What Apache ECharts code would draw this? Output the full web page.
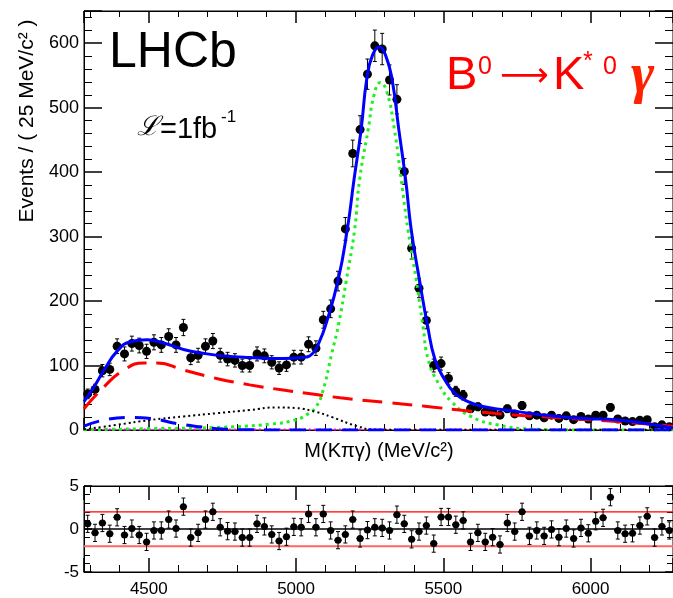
<!DOCTYPE html>
<html><head><meta charset="utf-8">
<script src="https://cdn.jsdelivr.net/npm/echarts@6/dist/echarts.min.js"></script>
<style>html,body{margin:0;padding:0;background:#fff}#c{width:673px;height:598px}</style>
</head><body><div id="c"></div>
<script>
// ---- data ----
const massBins = [4292.5,4317.5,4342.5,4367.5,4392.5,4417.5,4442.5,4467.5,4492.5,4517.5,
4542.5,4567.5,4592.5,4617.5,4642.5,4667.5,4692.5,4717.5,4742.5,4767.5,
4792.5,4817.5,4842.5,4867.5,4892.5,4917.5,4942.5,4967.5,4992.5,5017.5,
5042.5,5067.5,5092.5,5117.5,5142.5,5167.5,5192.5,5217.5,5242.5,5267.5,
5292.5,5317.5,5342.5,5367.5,5392.5,5417.5,5442.5,5467.5,5492.5,5517.5,
5542.5,5567.5,5592.5,5617.5,5642.5,5667.5,5692.5,5717.5,5742.5,5767.5,
5792.5,5817.5,5842.5,5867.5,5892.5,5917.5,5942.5,5967.5,5992.5,6017.5,
6042.5,6067.5,6092.5,6117.5,6142.5,6167.5,6192.5,6217.5,6242.5,6267.5];
const events = [56,63,92,94,130,118,134,131,122,136,
132,145,132,159,112,116,130,138,116,110,
108,100,100,118,115,105,96,101,113,113,
133,127,171,188,231,312,429,466,552,596,
591,543,513,401,282,220,170,100,103,80,
60,54,33,36,28,28,23,33,25,38,
22,23,19,23,18,22,16,21,17,23,
23,35,17,14,13,15,16,5,8,5];
const pulls = [0.6,-0.45,0.7,-0.55,1.36,-0.7,0.05,-0.7,-1.5,-0.17,
-0.17,1.1,0.05,2.6,-1.0,-0.45,1.1,2.0,0.2,-0.25,
-0.3,-1.0,-1.0,0.6,0.3,-0.63,-1.4,-0.9,0.25,0.2,
1.75,0.2,1.75,-0.17,-1.3,-0.63,1.1,-1.1,-0.13,0.2,
0.13,-0.17,1.67,0.6,-1.2,-0.3,0.4,-1.7,1.4,1.4,
0.5,1.0,-1.5,-0.45,-1.5,-0.95,-1.8,0.7,-0.3,2.0,
-0.8,-0.17,-0.8,-0.05,-0.95,0.05,-1.1,0.13,-0.5,0.9,
1.3,3.7,-0.17,-0.55,-0.5,0.4,1.47,-1.0,0.3,-0.17];
const fitTotal = [[4280,44],[4314,67],[4348,93],[4392,122],[4438,137],[4494,140],[4550,135],[4618,125],[4685,119],[4753,115],[4843,112.5],[4956,111],[5023,112.5],[5057,119],[5080,138],[5100,162],[5143,233],[5174,311],[5197,389],[5221,466],[5240,544],[5260,582],[5283,594],[5305,580],[5326,544],[5349,466],[5372,389],[5391,311],[5419,233],[5447,161],[5472,109],[5505,78],[5539,57],[5584,44],[5640,36],[5753,28.5],[5865,22],[5978,18],[6091,15.5],[6181,10.5],[6280,3]];
const fitPartReco = [[4280,33],[4348,67],[4415,93],[4483,104],[4528,104],[4618,93],[4730,80],[4843,70],[4956,62],[5068,55],[5150,50],[5300,43],[5437,37],[5584,29.5],[5753,23],[5922,18],[6091,13],[6280,6]];
const fitOtherBkg = [[4280,6],[4348,15.5],[4438,19.5],[4505,18],[4595,10],[4673,5],[4753,1.5],[4850,0.3],[5000,0],[6280,0]];
const fitCombinatorial = [[4280,1],[4392,8],[4505,15.5],[4618,21],[4730,26],[4843,31],[4933,35],[5000,34],[5068,28],[5122,20],[5207,6],[5270,0.5],[5400,0],[6280,0]];
const fitSignal = [[4280,0.5],[4500,2],[4730,4],[4910,9],[5000,16],[5044,26],[5068,36],[5089,57],[5122,120],[5145,165],[5171,233],[5199,311],[5216,389],[5245,466],[5265,520],[5286,539],[5308,525],[5334,466],[5357,389],[5380,311],[5408,233],[5431,161],[5449,109],[5483,72.6],[5528,44],[5595,20.7],[5686,7.8],[5798,1.5],[5950,0],[6280,0]];
const fitMinor = [[4280,0.8],[6280,0.8]];
const pullBands = [2, -2];

// ---- chart ----
const FONT = "'Liberation Sans', Arial, Helvetica, sans-serif";
const chart = echarts.init(document.getElementById('c'), null, {renderer:'canvas'});
const evData = massBins.map((m,i)=>[m, events[i]]);
const pullData = massBins.map((m,i)=>[m, pulls[i]]);
const halfBin = 12.5;

function errBar(yErrFn, cap, hbar){
  return function(params, api){
    const x = api.value(0), y = api.value(1), e = yErrFn(y);
    const t = api.coord([x, y+e]), b = api.coord([x, y-e]);
    const st = {stroke:'#000', lineWidth:1};
    const ch = [
      {type:'line', shape:{x1:t[0],y1:t[1],x2:b[0],y2:b[1]}, style:st},
      {type:'line', shape:{x1:t[0]-cap,y1:t[1],x2:t[0]+cap,y2:t[1]}, style:st},
      {type:'line', shape:{x1:b[0]-cap,y1:b[1],x2:b[0]+cap,y2:b[1]}, style:st}
    ];
    if (hbar) {
      const l = api.coord([x-halfBin, y]), r = api.coord([x+halfBin, y]);
      ch.push({type:'line', shape:{x1:l[0],y1:l[1],x2:r[0],y2:r[1]}, style:{stroke:'#000', lineWidth:1.5}});
    }
    return {type:'group', children: ch};
  };
}

function xAx(grid, pos, labels){
  return {type:'value', gridIndex:grid, position:pos, min:4280, max:6280, splitNumber:4,
    axisLine:{show:true, onZero:false, lineStyle:{color:'#000', width:1}},
    axisTick:{show:true, inside:true, length: grid===0?12:14, lineStyle:{color:'#000', width:1.5}},
    minorTick:{show:true, splitNumber:5, length: grid===0?6:7, lineStyle:{color:'#000', width:1}},
    axisLabel:{show:labels, showMinLabel:false, showMaxLabel:false, color:'#000', fontSize:17, fontFamily:FONT, margin:9, formatter:(v)=>String(v)},
    splitLine:{show:false}, minorSplitLine:{show:false}};
}
function yAx(grid, pos, labels){
  const main = grid===0;
  return {type:'value', gridIndex:grid, position:pos,
    min: main?0:-5, max: main?650:5, interval: main?100:5,
    axisLine:{show:true, onZero:false, lineStyle:{color:'#000', width:1}},
    axisTick:{show:true, inside:true, length: main?18:8, lineStyle:{color:'#000', width:1.5}},
    minorTick:{show:true, splitNumber:5, length: main?8:6, lineStyle:{color:'#000', width:1}},
    axisLabel:{show:labels, showMaxLabel: main?false:true, color:'#000', fontSize: main?18:17, fontFamily:FONT, margin:5, formatter:(v)=>String(v)},
    splitLine:{show:false}, minorSplitLine:{show:false}};
}
const curve = (data, color, width, type, z) => ({type:'line', xAxisIndex:0, yAxisIndex:0, data, smooth:0.5, showSymbol:false, lineStyle:{color, width, type}, z, silent:true});

const option = {
  animation:false,
  backgroundColor:'#fff',
  grid:[
    {left:84, top:11, width:592, height:419, show:true, borderColor:'#000', borderWidth:1},
    {left:84, top:486, width:592, height:87, show:true, borderColor:'#000', borderWidth:1}
  ],
  xAxis:[xAx(0,'bottom',false), xAx(0,'top',false), xAx(1,'bottom',true), xAx(1,'top',false)],
  yAxis:[yAx(0,'left',true), yAx(0,'right',false), yAx(1,'left',true), yAx(1,'right',false)],
  series:[
    {type:'custom', xAxisIndex:0, yAxisIndex:0, data:evData, renderItem: errBar(v=>Math.sqrt(v), 2, false), z:2, silent:true},
    {type:'scatter', xAxisIndex:0, yAxisIndex:0, data:evData, symbol:'circle', symbolSize:9, itemStyle:{color:'#000', opacity:1}, z:3, silent:true},
    curve(fitMinor, '#ff00ff', 2, [2,3], 4),
    curve(fitSignal, '#22ee22', 3, [3,4], 4),
    curve(fitCombinatorial, '#000', 2, [2,3], 4),
    curve(fitOtherBkg, '#0000ff', 3, [16,10], 4),
    curve(fitPartReco, '#ff0000', 3, [20,10], 4),
    curve(fitTotal, '#0000ff', 3, 'solid', 5),
    // pull plot
    {type:'line', xAxisIndex:2, yAxisIndex:2, data:[[4280,0],[6280,0]], showSymbol:false, lineStyle:{color:'#000', width:1.5}, z:2, silent:true},
    {type:'line', xAxisIndex:2, yAxisIndex:2, data:[[4280,pullBands[0]],[6280,pullBands[0]]], showSymbol:false, lineStyle:{color:'#ff0000', width:1.2}, z:2, silent:true},
    {type:'line', xAxisIndex:2, yAxisIndex:2, data:[[4280,pullBands[1]],[6280,pullBands[1]]], showSymbol:false, lineStyle:{color:'#ff6666', width:2}, z:2, silent:true},
    {type:'custom', xAxisIndex:2, yAxisIndex:2, data:pullData, renderItem: errBar(v=>1, 2, true), z:3, silent:true},
    {type:'scatter', xAxisIndex:2, yAxisIndex:2, data:pullData, symbol:'circle', symbolSize:7, itemStyle:{color:'#000', opacity:1}, z:4, silent:true}
  ],
  graphic:[
    {type:'text', left:109, top:28, style:{text:'LHCb', font:'50px '+FONT, fill:'#000'}},
    {type:'text', left:137, top:114, style:{text:'\u2112', font:'italic 27px "DejaVu Serif", serif', fill:'#000'}},
    {type:'text', left:160, top:115, style:{text:'=1fb', font:'29px '+FONT, fill:'#000'}},
    {type:'text', left:221, top:109, style:{text:'-1', font:'17px '+FONT, fill:'#000'}},
    {type:'text', left:446, top:53, style:{text:'B', font:'47px '+FONT, fill:'#ff0000'}},
    {type:'text', left:478, top:55, style:{text:'0', font:'25px '+FONT, fill:'#ff0000'}},
    {type:'text', left:500, top:60, style:{text:'\u27f6', font:'34px "DejaVu Sans", sans-serif', fill:'#ff0000'}},
    {type:'text', left:553, top:53, style:{text:'K', font:'47px '+FONT, fill:'#ff0000'}},
    {type:'text', left:583, top:50, style:{text:'*', font:'25px '+FONT, fill:'#ff0000'}},
    {type:'text', left:603, top:55, style:{text:'0', font:'25px '+FONT, fill:'#ff0000'}},
    {type:'text', left:631, top:50, style:{text:'\u03b3', font:'italic bold 56px "Liberation Serif", serif', fill:'#ff2200'}},
    {type:'text', x:27, y:121, rotation:Math.PI/2, style:{text:'Events / ( 25 MeV/c\u00b2 )', font:'21px '+FONT, fill:'#000', textAlign:'center', textVerticalAlign:'middle', align:'center', verticalAlign:'middle'}},
    {type:'text', x:379, y:451, style:{text:'M(K\u03c0\u03b3) (MeV/c\u00b2)', font:'20px '+FONT, fill:'#000', textAlign:'center', textVerticalAlign:'middle', align:'center', verticalAlign:'middle'}}
  ]
};
chart.setOption(option);
</script>
</body></html>
